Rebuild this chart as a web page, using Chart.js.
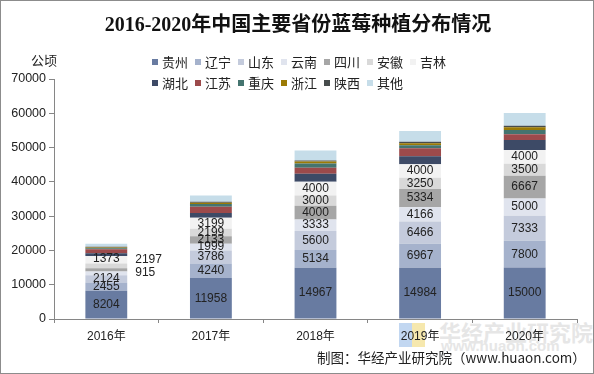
<!DOCTYPE html>
<html>
<head>
<meta charset="utf-8">
<script src="https://cdn.jsdelivr.net/npm/chart.js@4"></script>
<style>
  body { margin: 0; background: #fff; }
  #wrap { position: relative; width: 594px; height: 374px; box-sizing: border-box; border: 1px solid #8c8c8c; overflow: hidden; font-family: "Liberation Sans", Arial, "Noto Sans CJK SC", sans-serif; }
  #chart { position: absolute; left: 0; top: 0; }
  .title { position: absolute; left: 0; width: 594px; top: 7px; text-align: center; font: bold 20px "Liberation Serif", "Noto Sans CJK SC", serif; color: #111; }
  .unit { position: absolute; left: 30px; top: 49px; font-size: 13px; color: #222; }
  .legend { position: absolute; left: 151px; top: 51px; width: 320px; font-size: 13px; color: #222; }
  .legend .row { height: 21px; white-space: nowrap; }
  .legend span.item { display: inline-block; width: 43px; }
  .legend i { display: inline-block; width: 6px; height: 6px; margin-right: 4px; vertical-align: 2px; }
  .source { position: absolute; left: 316px; top: 346px; font-size: 13.5px; color: #222; font-family: "Noto Sans CJK SC", sans-serif; }
  .wm { position: absolute; color: #e6e6e6; font-weight: bold; font-family: "Noto Sans CJK SC", sans-serif; }
  .logo1 { position: absolute; left: 398px; top: 322px; width: 13px; height: 24px; background: #c2d7f1; }
  .logo2 { position: absolute; left: 411px; top: 322px; width: 13px; height: 24px; background: #f6e8ae; }
</style>
</head>
<body>
<div id="wrap">
  <div class="logo1"></div><div class="logo2"></div>
  <div class="wm" style="left:438px; top:314px; font-size:22px;">华经产业研究院</div>
  <div class="wm" style="left:440px; top:336px; font-size:15px; font-family:'Liberation Sans',sans-serif;">www.huaon.com</div>
  <canvas id="chart" width="594" height="374"></canvas>
  <div class="title">2016-2020年中国主要省份蓝莓种植分布情况</div>
  <div class="unit">公顷</div>
  <div class="legend" id="legend"></div>
  <div class="source">制图：华经产业研究院（www.huaon.com）</div>
</div>
<script>
// Data (hectares)
const years = ['2016年', '2017年', '2018年', '2019年', '2020年'];
const provinces = ['贵州', '辽宁', '山东', '云南', '四川', '安徽', '吉林', '湖北', '江苏', '重庆', '浙江', '陕西', '其他'];
const guizhou   = [8204, 11958, 14967, 14984, 15000];
const liaoning  = [2455, 4240, 5134, 6967, 7800];
const shandong  = [2124, 3786, 5600, 6466, 7333];
const yunnan    = [1100, 1999, 3333, 4166, 5000];
const sichuan   = [915, 2133, 4000, 5334, 6667];
const anhui     = [1373, 2199, 3000, 3250, 3500];
const jilin     = [2197, 3199, 4000, 4000, 4000];
const hubei     = [800, 1400, 2300, 2300, 2900];
const jiangsu   = [1200, 1800, 1800, 2300, 1700];
const chongqing = [300, 800, 1200, 900, 1200];
const zhejiang  = [200, 400, 600, 600, 800];
const shaanxi   = [200, 300, 300, 400, 500];
const others    = [900, 1800, 2900, 3200, 3700];
const yTicks = [0, 10000, 20000, 30000, 40000, 50000, 60000, 70000];

const seriesData = [guizhou, liaoning, shandong, yunnan, sichuan, anhui, jilin,
    hubei, jiangsu, chongqing, zhejiang, shaanxi, others];
const colors = ['#687ba1', '#a5b2cc', '#c4cbdc', '#e0e4ee', '#a6a6a6', '#d9d9d9', '#f2f2f2',
    '#3d4a66', '#9c4a4b', '#44746f', '#9b7a05', '#474c4c', '#c6dde9'];

// only the first seven provinces carry value labels
const labelledCount = 7;
// labels that were moved in the original: [dataset, index] -> offsets
const labelMoves = {
    '3,0': null,                                // 云南 2016: no label
    '4,0': { dx: 28, dy: 3, align: 'left' },   // 四川 2016 outside
    '5,0': { dx: 0, dy: -7, align: 'center' },  // 安徽 2016 moved up
    '6,0': { dx: 28, dy: 0, align: 'left' }    // 吉林 2016 outside
};

const valueLabels = {
    id: 'valueLabels',
    afterDatasetsDraw(chart) {
        const ctx = chart.ctx;
        ctx.save();
        ctx.font = '12px "Liberation Sans", Arial, sans-serif';
        ctx.fillStyle = '#222';
        ctx.textBaseline = 'middle';
        for (let d = 0; d < labelledCount; d++) {
            const meta = chart.getDatasetMeta(d);
            meta.data.forEach((bar, i) => {
                const key = d + ',' + i;
                let move = { dx: 0, dy: 0, align: 'center' };
                if (key in labelMoves) {
                    move = labelMoves[key];
                    if (!move) return;
                }
                const y = (bar.y + bar.base) / 2 + move.dy;
                const x = move.align === 'left' ? bar.x + bar.width / 2 + move.dx - 20 : bar.x + move.dx;
                ctx.textAlign = move.align;
                ctx.fillText(String(seriesData[d][i]), x, y);
            });
        }
        ctx.restore();
    }
};

const chart = new Chart(document.getElementById('chart'), {
    type: 'bar',
    data: {
        labels: years,
        datasets: provinces.map((p, k) => ({
            label: p,
            data: seriesData[k],
            backgroundColor: colors[k],
            borderWidth: 0,
            barPercentage: 0.4,
            categoryPercentage: 1.0
        }))
    },
    options: {
        responsive: false,
        animation: false,
        layout: { padding: { top: 78, right: 18, left: 0, bottom: 0 } },
        plugins: {
            legend: { display: false },
            tooltip: { enabled: false }
        },
        scales: {
            x: {
                stacked: true,
                afterFit: s => { s.height = 56; },
                grid: { offset: true, drawOnChartArea: false, tickLength: 4, color: '#868686' },
                border: { color: '#868686' },
                ticks: { padding: 6, color: '#222', font: { size: 12, family: '"Liberation Sans", Arial, "Noto Sans CJK SC"' } }
            },
            y: {
                stacked: true,
                min: 0,
                max: 70000,
                afterFit: s => { s.width = 53; },
                afterBuildTicks: s => { s.ticks = yTicks.map(v => ({ value: v })); },
                grid: { drawOnChartArea: false, tickLength: 5, color: '#868686' },
                border: { color: '#868686' },
                ticks: {
                    padding: 3, color: '#222',
                    font: { size: 12.5, family: '"Liberation Sans", Arial' },
                    callback: v => String(v)
                }
            }
        }
    },
    plugins: [valueLabels]
});

// HTML legend, two rows left-aligned like the original
const legendEl = document.getElementById('legend');
[provinces.slice(0, 7), provinces.slice(7)].forEach((row, r) => {
    const div = document.createElement('div');
    div.className = 'row';
    row.forEach((name, j) => {
        const k = r * 7 + j;
        const item = document.createElement('span');
        item.className = 'item';
        item.innerHTML = '<i style="background:' + colors[k] + '"></i>' + name;
        div.appendChild(item);
    });
    legendEl.appendChild(div);
});
</script>
</body>
</html>
